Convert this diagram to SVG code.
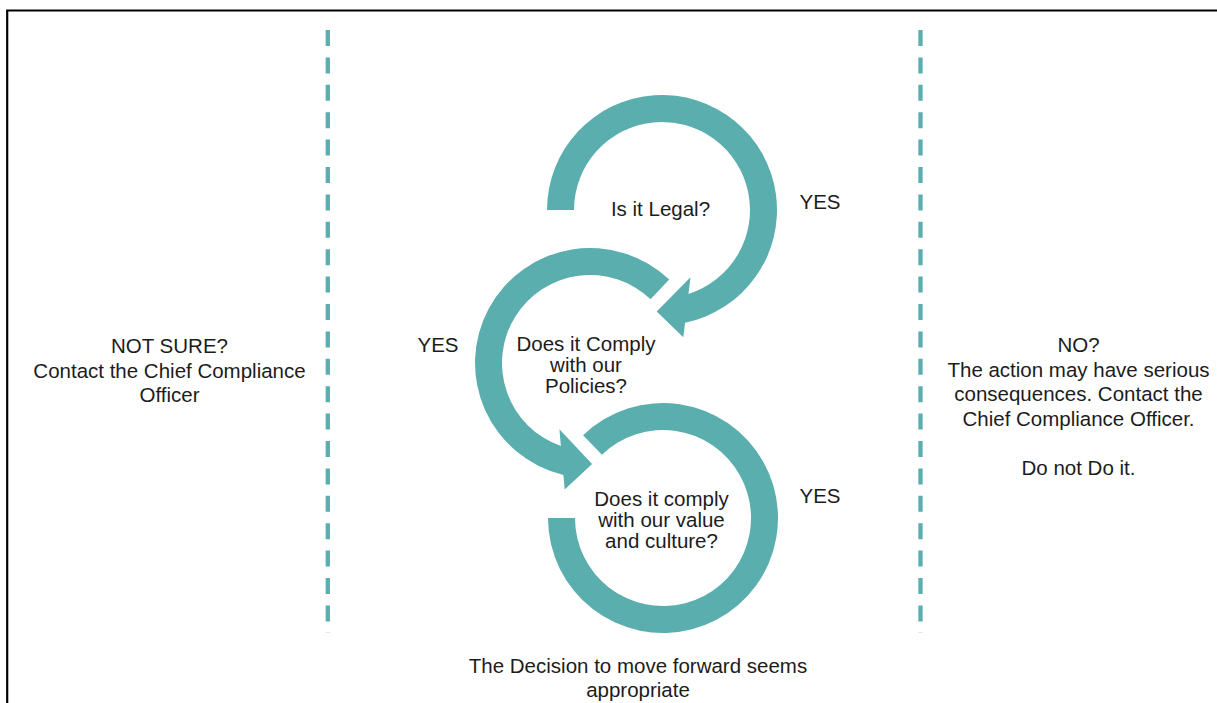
<svg xmlns="http://www.w3.org/2000/svg" width="1217" height="703" viewBox="0 0 1217 703">
  <style>
    .ring { fill: #5aaead; }
    .divider { stroke: #5aaead; stroke-width: 4.3; stroke-dasharray: 16 11.4; fill: none; }
    .frame { stroke: #000; stroke-width: 2.2; fill: none; }
    text { font-family: "Liberation Sans", Arial, sans-serif; font-size: 20.5px; fill: #1c1c1c; text-anchor: middle; }
  </style>

  <rect width="1217" height="703" fill="#fff"/>

  <!-- page frame: top and left edges only -->
  <path class="frame" d="M7.2 703 V10.5 H1217"/>

  <!-- column dividers -->
  <g id="dividers">
    <line class="divider" x1="327.8" y1="30" x2="327.8" y2="633"/>
    <line class="divider" x1="920.5" y1="30" x2="920.5" y2="633"/>
  </g>

  <!-- question 1: legality (ring ends in an arrowhead pointing to question 2) -->
  <g id="q-legal">
    <path class="ring" d="M547 210 A115 115 0 1 1 685.04 322.67 L683.3 337.2 L656.7 311.4 L690.5 277.2 L688.49 293.92 A88 88 0 1 0 574 210 Z"/>
    <text x="660.5" y="216">Is it Legal?</text>
  </g>

  <!-- question 2: policies (ring ends in an arrowhead pointing to question 3) -->
  <g id="q-policies">
    <path class="ring" d="M669.2 279.6 A115 115 0 1 0 563.42 474.88 L564.7 489.5 L592.1 464 L559.4 429.3 L560.88 446.05 A88 88 0 1 1 650.6 299.2 Z"/>
    <text x="586" y="351">Does it Comply</text>
    <text x="586" y="372">with our</text>
    <text x="586" y="393">Policies?</text>
  </g>

  <!-- question 3: values and culture -->
  <g id="q-values">
    <path class="ring" d="M548 518 A115 115 0 1 0 583.1 435.3 L601.9 454.7 A88 88 0 1 1 575 518 Z"/>
    <text x="661.5" y="506">Does it comply</text>
    <text x="661.5" y="527">with our value</text>
    <text x="661.5" y="548">and culture?</text>
  </g>

  <!-- answer labels between the rings -->
  <g id="connectors">
    <text x="820" y="209">YES</text>
    <text x="438" y="352">YES</text>
    <text x="820" y="503">YES</text>
  </g>

  <!-- outcomes -->
  <g id="outcome-not-sure">
    <text x="169.5" y="353">NOT SURE?</text>
    <text x="169.5" y="377.5">Contact the Chief Compliance</text>
    <text x="169.5" y="402">Officer</text>
  </g>

  <g id="outcome-no">
    <text x="1078.5" y="352">NO?</text>
    <text x="1078.5" y="376.5">The action may have serious</text>
    <text x="1078.5" y="401">consequences. Contact the</text>
    <text x="1078.5" y="425.5">Chief Compliance Officer.</text>
    <text x="1078.5" y="475">Do not Do it.</text>
  </g>

  <g id="outcome-proceed">
    <text x="638" y="673">The Decision to move forward seems</text>
    <text x="638" y="697">appropriate</text>
  </g>
</svg>
